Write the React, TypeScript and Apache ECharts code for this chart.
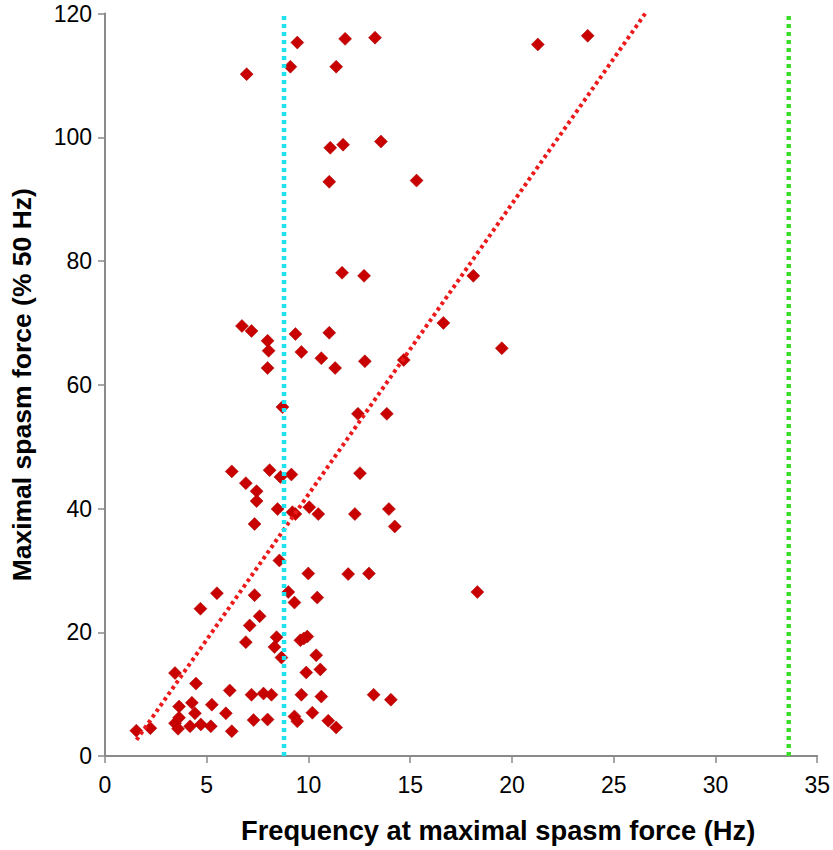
import React, { useEffect, useRef } from "react";
import * as echarts from "echarts";

// Scatter points: frequency at maximal spasm force (Hz)
const frequencyHz = [
  6.96, 9.45, 9.11, 11.8, 13.27, 11.36, 21.27, 23.72,
  11.07, 11.7, 13.56, 11.02, 15.31,
  11.65, 12.73, 18.1, 16.63, 19.5, 14.68,
  6.73, 7.2, 7.99, 8.04, 7.99, 9.36, 11.02, 9.65, 10.63, 11.31, 12.77,
  8.72, 12.43, 13.85,
  6.23, 8.09, 8.62, 9.16, 12.53, 6.92, 7.45, 7.45, 8.48, 9.21, 9.36, 10.04, 10.48, 12.28, 13.95, 7.35, 14.24,
  8.57, 9.99, 11.95, 12.97, 18.3,
  5.5, 7.35, 9.01, 9.31, 10.43, 4.69, 7.6, 7.11,
  6.92, 8.43, 8.33, 8.67, 9.6, 9.94, 9.77, 10.38, 9.89, 10.58,
  3.44, 4.47, 6.13, 7.2, 7.79, 8.18, 9.65, 10.63, 13.2, 14.05,
  3.64, 4.27, 4.42, 5.25, 5.94, 7.3, 7.99, 9.31, 9.45, 10.19, 10.97, 11.36,
  6.23, 5.2, 4.71, 4.18, 3.44, 3.64, 3.59, 1.54, 2.23,
];

// Scatter points: maximal spasm force (% of 50 Hz)
const spasmForcePct = [
  110.2, 115.3, 111.4, 115.9, 116.1, 111.4, 115.0, 116.4,
  98.3, 98.8, 99.3, 92.8, 93.0,
  78.1, 77.6, 77.6, 70.0, 65.9, 64.0,
  69.5, 68.7, 67.1, 65.5, 62.7, 68.2, 68.4, 65.3, 64.3, 62.7, 63.8,
  56.4, 55.3, 55.3,
  46.0, 46.2, 45.1, 45.5, 45.7, 44.1, 42.8, 41.2, 39.9, 39.4, 39.1, 40.2, 39.1, 39.1, 39.9, 37.5, 37.1,
  31.6, 29.5, 29.4, 29.5, 26.5,
  26.3, 26.0, 26.5, 24.8, 25.6, 23.8, 22.6, 21.1,
  18.4, 19.2, 17.6, 15.9, 18.7, 19.3, 19.0, 16.3, 13.5, 14.0,
  13.4, 11.7, 10.6, 9.9, 10.1, 9.9, 9.9, 9.6, 9.9, 9.1,
  8.0, 8.6, 6.9, 8.3, 6.9, 5.8, 5.9, 6.4, 5.6, 7.0, 5.7, 4.6,
  4.0, 4.8, 5.1, 4.8, 5.3, 6.2, 4.4, 4.1, 4.5,
];

// Linear trend line end points
const trendFrequency = [1.55, 26.55];
const trendForce = [2.6, 120];

// Vertical reference lines (Hz)
const cyanLineHz = 8.8;
const greenLineHz = 33.6;

const xMin = 0;
const xMax = 35;
const xStep = 5;
const yMin = 0;
const yMax = 120;
const yStep = 20;

const xTitle = "Frequency at maximal spasm force (Hz)";
const yTitle = "Maximal spasm force (% 50 Hz)";

const FONT = "'Liberation Sans', Arial, Helvetica, sans-serif";

export default function App() {
  const ref = useRef<HTMLDivElement>(null);

  useEffect(() => {
    if (!ref.current) return;
    const chart = echarts.init(ref.current, undefined, { renderer: "svg" });

    const points = frequencyHz.map((x, i) => [x, spasmForcePct[i]]);
    const trend = trendFrequency.map((x, i) => [x, trendForce[i]]);

    chart.setOption({
      animation: false,
      backgroundColor: "#ffffff",
      grid: { left: 101.5, right: 15, top: 13.5, bottom: 94, containLabel: false },
      xAxis: {
        type: "value",
        min: xMin,
        max: xMax,
        interval: xStep,
        name: xTitle,
        nameLocation: "middle",
        nameGap: 61,
        nameTextStyle: {
          fontFamily: FONT,
          fontWeight: "bold",
          fontSize: 27.3,
          color: "#000",
          padding: [0, 0, 0, 74],
        },
        axisLine: { show: true, onZero: false, lineStyle: { color: "#8a8a8a", width: 2 } },
        axisTick: { show: true, length: 7, lineStyle: { color: "#8a8a8a", width: 1.5 } },
        axisLabel: { fontFamily: FONT, fontSize: 23, color: "#000", margin: 17 },
        splitLine: { show: false },
      },
      yAxis: {
        type: "value",
        min: yMin,
        max: yMax,
        interval: yStep,
        name: yTitle,
        nameLocation: "middle",
        nameGap: 70,
        nameRotate: 90,
        nameTextStyle: {
          fontFamily: FONT,
          fontWeight: "bold",
          fontSize: 26.5,
          color: "#000",
        },
        axisLine: { show: true, onZero: false, lineStyle: { color: "#8a8a8a", width: 2 } },
        axisTick: { show: true, length: 7, lineStyle: { color: "#8a8a8a", width: 1.5 } },
        axisLabel: { fontFamily: FONT, fontSize: 23, color: "#000", margin: 13 },
        splitLine: { show: false },
      },
      series: [
        {
          type: "scatter",
          data: points,
          symbol: "diamond",
          symbolSize: 13,
          itemStyle: { color: "#c80000", borderColor: "#a80000", borderWidth: 0.5, opacity: 1 },
          z: 2,
        },
        {
          type: "line",
          data: trend,
          showSymbol: false,
          symbol: "none",
          lineStyle: { color: "#ec1a1a", width: 4, type: [3.5, 3.4] },
          z: 3,
        },
        {
          type: "line",
          data: [
            [cyanLineHz, yMin],
            [cyanLineHz, yMax],
          ],
          showSymbol: false,
          symbol: "none",
          lineStyle: { color: "#1ee3ef", width: 4.5, type: [4, 4] },
          z: 4,
        },
        {
          type: "line",
          data: [
            [greenLineHz, yMin],
            [greenLineHz, yMax],
          ],
          showSymbol: false,
          symbol: "none",
          lineStyle: { color: "#3cdc2c", width: 4.5, type: [4, 4] },
          z: 4,
        },
      ],
    });

    return () => chart.dispose();
  }, []);

  return (
    <div
      ref={ref}
      style={{ position: "fixed", left: 0, top: 0, width: 833, height: 850, background: "#fff" }}
    />
  );
}
